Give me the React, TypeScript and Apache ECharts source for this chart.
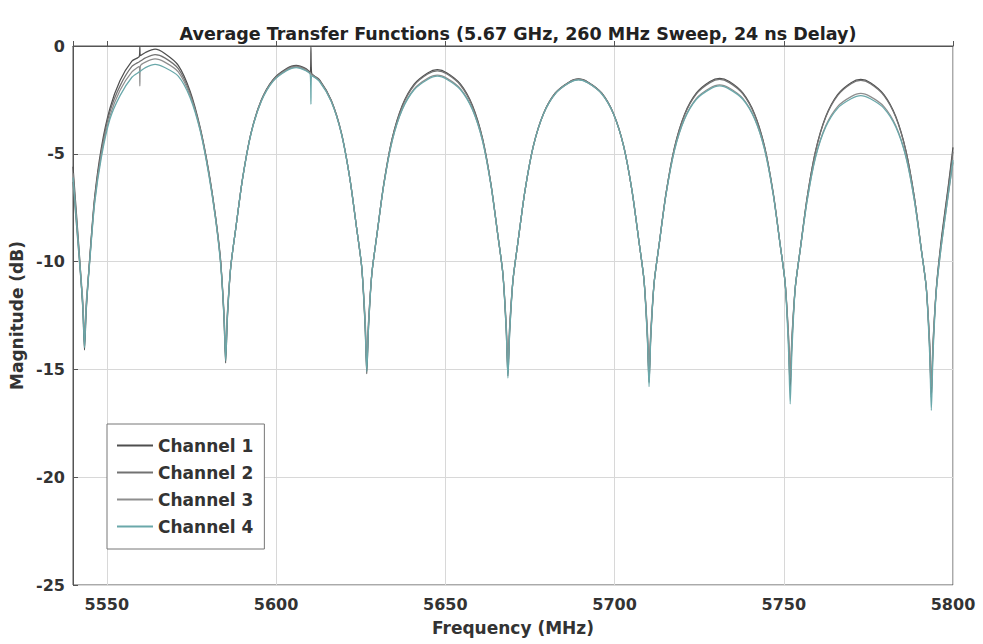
import { useEffect, useRef } from "react";
import * as echarts from "echarts";

const chartTitle = "Average Transfer Functions (5.67 GHz, 260 MHz Sweep, 24 ns Delay)";
const xAxisName = "Frequency (MHz)";
const yAxisName = "Magnitude (dB)";
const channelNames = ["Channel 1", "Channel 2", "Channel 3", "Channel 4"];
const channelColors = ["#4f4f4f", "#727272", "#8e8e8e", "#6aa8aa"];

const freqMHz = [
  5540, 5541.9, 5542.9, 5543.4,
  5543.9, 5544.9, 5546.4, 5548.4, 5550.9, 5553.9, 5557.4, 5559.6, 5559.75, 5559.9, 5561.4, 5564.25,
  5567.1, 5571.1, 5574.6, 5577.6, 5580.1, 5582.1, 5583.6, 5584.6, 5585.1,
  5585.6, 5586.6, 5588.1, 5590.1, 5592.6, 5595.6, 5599.1, 5603.1, 5605.95,
  5608.8, 5610.1, 5610.3, 5610.5, 5612.8, 5616.3, 5619.3, 5621.8, 5623.8, 5625.3, 5626.3, 5626.8,
  5627.3, 5628.3, 5629.8, 5631.8, 5634.3, 5637.3, 5640.8, 5644.8, 5647.65, 5650.5, 5654.5, 5658.0, 5661.0, 5663.5, 5665.5, 5667.0, 5668.0, 5668.5,
  5669.0, 5670.0, 5671.5, 5673.5, 5676.0, 5679.0, 5682.5, 5686.5, 5689.35, 5692.2, 5696.2, 5699.7, 5702.7, 5705.2, 5707.2, 5708.7, 5709.7, 5710.2,
  5710.7, 5711.7, 5713.2, 5715.2, 5717.7, 5720.7, 5724.2, 5728.2, 5731.05, 5733.9, 5737.9, 5741.4, 5744.4, 5746.9, 5748.9, 5750.4, 5751.4, 5751.9,
  5752.4, 5753.4, 5754.9, 5756.9, 5759.4, 5762.4, 5765.9, 5769.9, 5772.75, 5775.6, 5779.6, 5783.1, 5786.1, 5788.6, 5790.6, 5792.1, 5793.1, 5793.6,
  5794.1, 5795.1, 5796.6, 5798.6, 5800,
];

const channel1 = [
  -5.6, -9.7, -12.2, -14.1,
  -12.3, -9.9, -7.0, -4.7, -2.9, -1.6, -0.7, -0.48, -0.02, -0.45, -0.3, -0.15,
  -0.35, -0.9, -2.1, -3.8, -5.8, -7.9, -9.9, -12.6, -14.7,
  -12.7, -10.25, -8.45, -6.14, -4.03, -2.52, -1.56, -1.05, -0.9,
  -1.05, -1.22, -0.05, -1.27, -1.56, -2.52, -4.03, -6.14, -8.45, -10.25, -13.0, -15.2,
  -13.1, -10.55, -8.74, -6.42, -4.29, -2.75, -1.77, -1.25, -1.1, -1.25, -1.77, -2.75, -4.29, -6.42, -8.74, -10.55, -13.2, -15.3,
  -13.3, -10.85, -9.05, -6.75, -4.64, -3.14, -2.18, -1.68, -1.53, -1.68, -2.18, -3.14, -4.64, -6.75, -9.05, -10.85, -13.5, -15.6,
  -13.5, -10.98, -9.17, -6.84, -4.71, -3.16, -2.18, -1.65, -1.5, -1.65, -2.18, -3.16, -4.71, -6.84, -9.17, -10.98, -13.7, -15.9,
  -13.8, -11.2, -9.38, -7.03, -4.86, -3.27, -2.25, -1.7, -1.55, -1.7, -2.25, -3.27, -4.86, -7.03, -9.38, -11.2, -14.0, -16.3,
  -14.0, -11.2, -8.9, -6.5, -4.7,
];

const channel2 = [
  -6.3, -10.0, -12.0, -13.8,
  -12.1, -10.0, -7.1, -4.85, -3.05, -1.85, -0.95, -0.73, -0.72, -0.7, -0.55, -0.4,
  -0.55, -1.05, -2.2, -3.85, -5.85, -7.9, -10.0, -12.4, -14.4,
  -12.5, -10.25, -8.45, -6.15, -4.04, -2.54, -1.58, -1.08, -0.93,
  -1.08, -1.25, -1.27, -1.3, -1.58, -2.54, -4.04, -6.15, -8.45, -10.25, -12.8, -14.9,
  -12.9, -10.55, -8.75, -6.43, -4.31, -2.79, -1.82, -1.3, -1.15, -1.3, -1.82, -2.79, -4.31, -6.43, -8.75, -10.55, -13.0, -15.0,
  -13.1, -10.85, -9.05, -6.75, -4.65, -3.14, -2.19, -1.69, -1.54, -1.69, -2.19, -3.14, -4.65, -6.75, -9.05, -10.85, -13.3, -15.3,
  -13.4, -10.98, -9.17, -6.85, -4.73, -3.2, -2.22, -1.7, -1.55, -1.7, -2.22, -3.2, -4.73, -6.85, -9.17, -10.98, -13.5, -15.6,
  -13.6, -11.2, -9.39, -7.04, -4.88, -3.31, -2.3, -1.75, -1.6, -1.75, -2.3, -3.31, -4.88, -7.04, -9.39, -11.2, -13.8, -16.0,
  -13.8, -11.2, -9.0, -6.6, -4.9,
];

const channel3 = [
  -5.9, -9.8, -11.8, -13.5,
  -11.9, -10.0, -7.2, -5.0, -3.25, -2.05, -1.2, -0.95, -1.85, -0.93, -0.75, -0.6,
  -0.75, -1.2, -2.3, -3.9, -5.9, -8.0, -10.0, -12.3, -14.2,
  -12.4, -10.25, -8.45, -6.15, -4.06, -2.56, -1.62, -1.12, -0.97,
  -1.12, -1.29, -1.31, -1.34, -1.62, -2.56, -4.06, -6.15, -8.45, -10.25, -12.6, -14.6,
  -12.8, -10.55, -8.76, -6.47, -4.39, -2.92, -1.99, -1.5, -1.35, -1.5, -1.99, -2.92, -4.39, -6.47, -8.76, -10.55, -12.9, -14.8,
  -13.0, -10.85, -9.05, -6.75, -4.65, -3.16, -2.21, -1.71, -1.56, -1.71, -2.21, -3.16, -4.65, -6.75, -9.05, -10.85, -13.2, -15.1,
  -13.2, -10.98, -9.19, -6.9, -4.83, -3.36, -2.43, -1.95, -1.8, -1.95, -2.43, -3.36, -4.83, -6.9, -9.19, -10.98, -13.4, -15.4,
  -13.5, -11.2, -9.42, -7.16, -5.12, -3.7, -2.81, -2.35, -2.2, -2.35, -2.81, -3.7, -5.12, -7.16, -9.42, -11.2, -13.7, -15.8,
  -13.7, -11.3, -9.2, -6.9, -5.4,
];

const channel4 = [
  -6.1, -9.9, -12.1, -14.0,
  -12.2, -10.1, -7.3, -5.15, -3.4, -2.3, -1.45, -1.2, -1.19, -1.17, -1.0, -0.85,
  -1.0, -1.4, -2.4, -3.95, -5.95, -8.0, -10.1, -12.5, -14.6,
  -12.6, -10.25, -8.45, -6.16, -4.07, -2.58, -1.64, -1.15, -1.0,
  -1.15, -1.32, -2.7, -1.37, -1.64, -2.58, -4.07, -6.16, -8.45, -10.25, -12.9, -15.1,
  -13.1, -10.55, -8.76, -6.48, -4.41, -2.95, -2.03, -1.55, -1.4, -1.55, -2.03, -2.95, -4.41, -6.48, -8.76, -10.55, -13.2, -15.4,
  -13.4, -10.85, -9.05, -6.75, -4.66, -3.16, -2.22, -1.72, -1.57, -1.72, -2.22, -3.16, -4.66, -6.75, -9.05, -10.85, -13.6, -15.8,
  -13.6, -10.98, -9.19, -6.91, -4.85, -3.39, -2.47, -2.0, -1.85, -2.0, -2.47, -3.39, -4.85, -6.91, -9.19, -10.98, -14.1, -16.6,
  -14.2, -11.2, -9.42, -7.18, -5.16, -3.76, -2.89, -2.45, -2.3, -2.45, -2.89, -3.76, -5.16, -7.18, -9.42, -11.2, -14.3, -16.9,
  -14.3, -11.3, -9.2, -6.9, -5.3,
];

const channelValues = [channel1, channel2, channel3, channel4];

const FONT = "'DejaVu Sans', 'Liberation Sans', Arial, sans-serif";

export default function App() {
  const ref = useRef<HTMLDivElement>(null);

  useEffect(() => {
    if (!ref.current) return;
    const chart = echarts.init(ref.current, null, { renderer: "svg" });
    const series = channelNames.map((name, c) => ({
      name,
      type: "line",
      symbol: "none",
      smooth: 0.25,
      silent: true,
      data: freqMHz.map((f, i) => [f, channelValues[c][i]]),
      lineStyle: { color: channelColors[c], width: 1.25 },
      itemStyle: { color: channelColors[c] },
      emphasis: { disabled: true },
      z: 2 + c,
    }));
    chart.setOption({
      animation: false,
      backgroundColor: "#ffffff",
      title: {
        text: chartTitle,
        left: 513,
        textAlign: "center",
        top: 20,
        textStyle: { fontFamily: FONT, fontWeight: "bold", fontSize: 17.5, color: "#222" },
      },
      legend: {
        orient: "vertical",
        left: 107,
        top: 424,
        icon: "rect",
        itemWidth: 36,
        itemHeight: 2,
        itemGap: 10,
        padding: [13, 11, 14, 10],
        borderColor: "#777",
        borderWidth: 1,
        backgroundColor: "#ffffff",
        data: channelNames,
        textStyle: { fontFamily: FONT, fontWeight: "bold", fontSize: 17, lineHeight: 17, color: "#333" },
      },
      grid: {
        left: 73,
        right: 30,
        top: 46,
        bottom: 59,
        show: true,
        borderColor: "#555",
        borderWidth: 1,
        backgroundColor: "transparent",
      },
      xAxis: {
        type: "value",
        min: 5540,
        max: 5800,
        splitNumber: 5,
        name: xAxisName,
        nameLocation: "middle",
        nameGap: 34,
        nameTextStyle: { fontFamily: FONT, fontWeight: "bold", fontSize: 17, color: "#333" },
        axisLine: { lineStyle: { color: "#555", width: 1 } },
        axisTick: { inside: true, length: 5, lineStyle: { color: "#555" } },
        axisLabel: {
          margin: 11,
          fontFamily: FONT,
          fontWeight: "bold",
          fontSize: 16,
          color: "#333",
          formatter: (v: number) => (v % 50 === 0 ? String(v) : ""),
        },
        splitLine: { show: true, lineStyle: { color: "#d8d8d8", width: 1 } },
      },
      yAxis: {
        type: "value",
        min: -25,
        max: 0,
        interval: 5,
        name: yAxisName,
        nameLocation: "middle",
        nameGap: 46,
        nameRotate: 90,
        nameTextStyle: { fontFamily: FONT, fontWeight: "bold", fontSize: 17, color: "#333" },
        axisLine: { lineStyle: { color: "#555", width: 1 } },
        axisTick: { inside: true, length: 5, lineStyle: { color: "#555" } },
        axisLabel: { margin: 8, fontFamily: FONT, fontWeight: "bold", fontSize: 16, color: "#333" },
        splitLine: { show: true, lineStyle: { color: "#d8d8d8", width: 1 } },
      },
      series,
    });
    return () => chart.dispose();
  }, []);

  return <div ref={ref} style={{ position: "absolute", left: 0, top: 0, width: 983, height: 644 }} />;
}
